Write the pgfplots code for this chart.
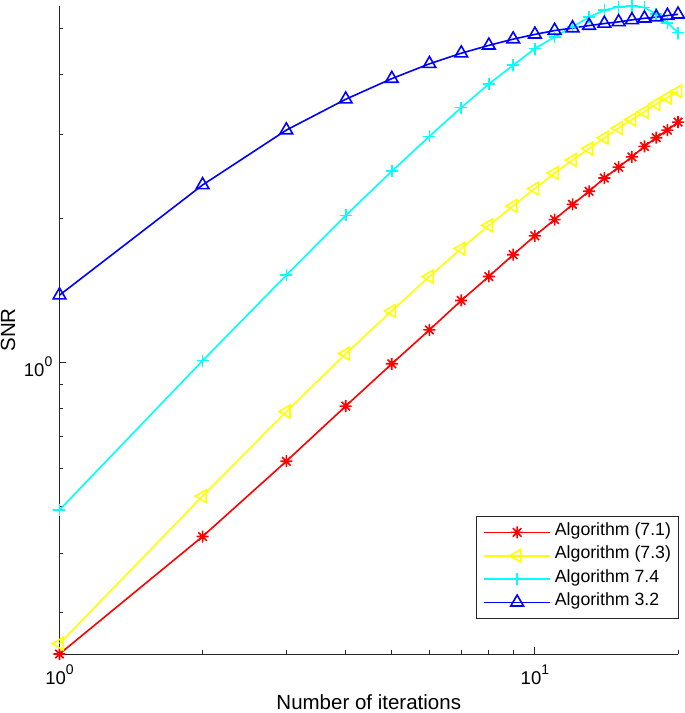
\documentclass[border=0pt]{standalone}
\usepackage{fontspec}
\setmainfont{Liberation Sans}
\usepackage{pgfplots}
\pgfplotsset{compat=1.18}
\definecolor{mred}{RGB}{255,0,0}
\definecolor{myellow}{RGB}{255,255,0}
\definecolor{mcyan}{RGB}{0,255,255}
\definecolor{mblue}{RGB}{0,0,255}
\pgfdeclareplotmark{mstar}{%
 \pgfpathmoveto{\pgfqpoint{-\pgfplotmarksize}{0pt}}\pgfpathlineto{\pgfqpoint{\pgfplotmarksize}{0pt}}%
 \pgfpathmoveto{\pgfqpoint{0pt}{-\pgfplotmarksize}}\pgfpathlineto{\pgfqpoint{0pt}{\pgfplotmarksize}}%
 \pgfpathmoveto{\pgfqpoint{-0.7071\pgfplotmarksize}{-0.7071\pgfplotmarksize}}\pgfpathlineto{\pgfqpoint{0.7071\pgfplotmarksize}{0.7071\pgfplotmarksize}}%
 \pgfpathmoveto{\pgfqpoint{-0.7071\pgfplotmarksize}{0.7071\pgfplotmarksize}}\pgfpathlineto{\pgfqpoint{0.7071\pgfplotmarksize}{-0.7071\pgfplotmarksize}}%
 \pgfusepathqstroke}
\newcommand{\tensup}[1]{10\raisebox{9.6bp}{\fontsize{14bp}{14bp}\selectfont #1}}
\begin{document}
\begin{tikzpicture}
\begin{axis}[
  scale only axis,
  width=618.5bp, height=648bp,
  xmode=log, ymode=log,
  xmin=1, xmax=20, ymin=0.246, ymax=5.56,
  axis x line=bottom, axis y line=left,
  axis line style={-, line width=0.9bp, black!85},
  tick align=inside,
  major tick length=7bp, minor tick length=4bp,
  every tick/.style={line width=0.9bp, black!85},
  xtick={1,10}, xticklabels={\tensup{0},\tensup{1}},
  ytick={1}, yticklabels={\tensup{0}},
  minor xtick={2,3,4,5,6,7,8,9,20},
  minor ytick={0.3,0.4,0.5,0.6,0.7,0.8,0.9,2,3,4,5},
  xticklabel style={font=\fontsize{18.5bp}{22bp}\selectfont, inner sep=0pt, anchor=north, yshift=-11bp},
  yticklabel style={font=\fontsize{18.5bp}{22bp}\selectfont, inner sep=0pt, anchor=east, xshift=-7bp, yshift=-4bp},
  xlabel={Number of iterations}, ylabel={SNR},
  label style={font=\fontsize{20.5bp}{24bp}\selectfont, inner sep=0pt},
  xlabel style={at={(axis description cs:0.5,-0.0864)}, anchor=base},
  ylabel style={at={(axis description cs:-0.0719,0.5)}, anchor=base, rotate=0},
  clip=false,
  legend cell align=left,
  legend style={at={(axis description cs:1,0.0556)}, anchor=south east,
    draw=black!85, line width=0.9bp, fill=white, outer sep=0pt,
    font=\fontsize{17.7bp}{20bp}\selectfont,
    inner xsep=7bp, inner ysep=4bp, row sep=0pt,
    nodes={inner sep=0pt, text height=14.8bp, text depth=8.5bp}},
  legend image code/.code={\draw[line width=1.6bp, mark repeat=2, mark phase=2] plot coordinates {(0bp,0bp) (33bp,0bp) (66bp,0bp)}; \path (70bp,0bp);},
  every axis plot/.append style={line width=1.6bp},
]
\addplot[mred, mark=mstar, mark size=6bp] coordinates {
(1,0.246) (2,0.433) (3,0.622) (4,0.811) (5,0.994) (6,1.17) (7,1.348) (8,1.513) (9,1.68) (10,1.84)
(11,1.99) (12,2.14) (13,2.28) (14,2.43) (15,2.56) (16,2.69) (17,2.83) (18,2.95) (19,3.06) (20,3.18)};
\addlegendentry{Algorithm (7.1)}
\addplot[myellow, mark=triangle, mark size=7.3bp, mark options={rotate=90}] coordinates {
(1,0.2585) (2,0.526) (3,0.790) (4,1.044) (5,1.282) (6,1.513) (7,1.731) (8,1.935) (9,2.125) (10,2.31)
(11,2.49) (12,2.65) (13,2.80) (14,2.95) (15,3.09) (16,3.22) (17,3.34) (18,3.47) (19,3.58) (20,3.69)};
\addlegendentry{Algorithm (7.3)}
\addplot[mcyan, mark=+, mark size=6bp] coordinates {
(1,0.492) (2,1.009) (3,1.522) (4,2.03) (5,2.51) (6,2.97) (7,3.41) (8,3.82) (9,4.18) (10,4.53)
(11,4.79) (12,5.03) (13,5.27) (14,5.45) (15,5.54) (16,5.56) (17,5.52) (18,5.35) (19,5.13) (20,4.89)};
\addlegendentry{Algorithm 7.4}
\addplot[mblue, mark=triangle, mark size=7.3bp] coordinates {
(1,1.383) (2,2.35) (3,3.06) (4,3.55) (5,3.92) (6,4.21) (7,4.43) (8,4.60) (9,4.74) (10,4.85)
(11,4.94) (12,5.00) (13,5.06) (14,5.11) (15,5.15) (16,5.20) (17,5.24) (18,5.27) (19,5.31) (20,5.34)};
\addlegendentry{Algorithm 3.2}
\end{axis}
\pgfresetboundingbox
\path ([shift={(-59.5bp,-59bp)}]current axis.south west) rectangle ([shift={(7bp,6bp)}]current axis.north east);
\end{tikzpicture}
\end{document}
